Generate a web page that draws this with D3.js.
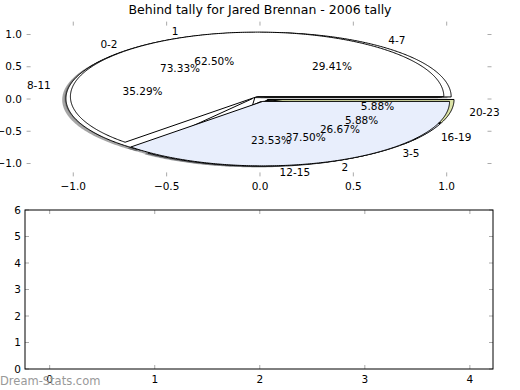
<!DOCTYPE html>
<html>
<head>
<meta charset="utf-8">
<script src="https://cdn.jsdelivr.net/npm/d3@7"></script>
<style>
  body { margin: 0; background: #fff; }
  svg { display: block; font-family: "DejaVu Sans", sans-serif; }
</style>
</head>
<body>
<div id="chart"></div>
<script>
// three tallies drawn into the same axes (A, then C, then B on top)
const pieALabels = ["0-2", "3-5"];
const pieAValues = [11, 4];
const pieBLabels = ["1", "2"];
const pieBValues = [5, 3];
const pieCLabels = ["4-7", "8-11", "12-15", "16-19", "20-23"];
const pieCValues = [5, 6, 4, 1, 1];

const pieTicks = [-1.0, -0.5, 0.0, 0.5, 1.0];
const lowerXTicks = [0, 1, 2, 3, 4];
const lowerYTicks = [0, 1, 2, 3, 4, 5, 6];

const width = 520, height = 390;
const blue = "#e8eefc";
const explode = 0.04;

const svg = d3.select("#chart").append("svg")
  .attr("width", width)
  .attr("height", height);

// ---- top axes (pie) ----
const x = d3.scaleLinear().domain([-1.25, 1.24]).range([26.6, 491.5]);
const y = d3.scaleLinear().domain([-1.2, 1.2]).range([176.4, 21.6]);

const pies = [
  { labels: pieALabels, values: pieAValues, colors: ["#ffffff", blue] },
  { labels: pieCLabels, values: pieCValues, colors: ["#ffffff", "#ffffff", blue, blue, "#dde4a8"] },
  { labels: pieBLabels, values: pieBValues, colors: ["#ffffff", blue] }
];

const pieGen = d3.pie().sort(null).startAngle(0).endAngle(2 * Math.PI);
const line = d3.line().x(p => x(p[0])).y(p => y(p[1]));
const fmt = d3.format(".2f");

function wedgePoints(cx, cy, a0, a1) {
  const n = Math.max(2, Math.ceil((a1 - a0) / 0.01));
  const pts = [[cx, cy]];
  for (let i = 0; i <= n; i++) {
    const a = a0 + (a1 - a0) * i / n;
    pts.push([cx + Math.cos(a), cy + Math.sin(a)]);
  }
  return pts;
}

// build wedges (angles counter-clockwise from east, like matplotlib)
pies.forEach(p => {
  const total = d3.sum(p.values);
  p.arcs = pieGen(p.values).map((a, i) => {
    const mid = (a.startAngle + a.endAngle) / 2;
    const cx = explode * Math.cos(mid), cy = explode * Math.sin(mid);
    return {
      label: p.labels[i],
      pct: fmt(p.values[i] / total * 100) + "%",
      color: p.colors[i],
      mid, cx, cy,
      pts: wedgePoints(cx, cy, a.startAngle, a.endAngle)
    };
  });
});

const all = pies.flatMap(p => p.arcs);

// shadows first
svg.append("g").selectAll("path")
  .data(all)
  .join("path")
  .attr("d", d => line(d.pts.map(q => [q[0] - 0.02, q[1] - 0.02])) + "Z")
  .attr("fill", d => {
    const c = d3.rgb(d.color);
    return `rgba(${c.r * 0.3},${c.g * 0.3},${c.b * 0.3},0.5)`;
  })
  .attr("stroke", "none");

svg.append("g").selectAll("path")
  .data(all)
  .join("path")
  .attr("d", d => line(d.pts) + "Z")
  .attr("fill", d => d.color)
  .attr("stroke", "#000")
  .attr("stroke-width", 1)
  .attr("stroke-linejoin", "round");

// labels
const txt = svg.append("g").attr("font-size", "10.5px").attr("fill", "#000");
txt.selectAll("text.lab")
  .data(all)
  .join("text")
  .attr("class", "lab")
  .attr("x", d => x(d.cx + 1.1 * Math.cos(d.mid)))
  .attr("y", d => y(d.cy + 1.1 * Math.sin(d.mid)))
  .attr("dy", "0.35em")
  .attr("text-anchor", d => Math.cos(d.mid) > 0 ? "start" : "end")
  .text(d => d.label);

txt.selectAll("text.pct")
  .data(all)
  .join("text")
  .attr("class", "pct")
  .attr("x", d => x(d.cx + 0.6 * Math.cos(d.mid)))
  .attr("y", d => y(d.cy + 0.6 * Math.sin(d.mid)))
  .attr("dy", "0.35em")
  .attr("text-anchor", "middle")
  .text(d => d.pct);

svg.append("text")
  .attr("x", 260).attr("y", 14)
  .attr("text-anchor", "middle")
  .attr("font-size", "12.5px")
  .text("Behind tally for Jared Brennan - 2006 tally");

function numFmt(v) { return (v < 0 ? "\u2212" : "") + Math.abs(v).toFixed(1); }

// tick marks, inward, on all four sides
function tickMarks(g, xs, ys, xPos, yPos, x0, x1, y0, y1) {
  xPos.forEach(v => {
    g.append("line").attr("x1", xs(v)).attr("x2", xs(v)).attr("y1", y1).attr("y2", y1 - 4);
    g.append("line").attr("x1", xs(v)).attr("x2", xs(v)).attr("y1", y0).attr("y2", y0 + 4);
  });
  yPos.forEach(v => {
    g.append("line").attr("x1", x0).attr("x2", x0 + 4).attr("y1", ys(v)).attr("y2", ys(v));
    g.append("line").attr("x1", x1).attr("x2", x1 - 4).attr("y1", ys(v)).attr("y2", ys(v));
  });
  g.attr("stroke", "#aaa").attr("stroke-width", 1);
}

tickMarks(svg.append("g"), x, y, pieTicks, pieTicks, 26.6, 491.5, 21.6, 176.4);

const axLab = svg.append("g").attr("font-size", "10.5px");
axLab.selectAll("text.xt").data(pieTicks).join("text")
  .attr("x", d => x(d)).attr("y", 190)
  .attr("text-anchor", "middle")
  .text(numFmt);
axLab.selectAll("text.yt").data(pieTicks).join("text")
  .attr("x", 22).attr("y", d => y(d)).attr("dy", "0.35em")
  .attr("text-anchor", "end")
  .text(numFmt);

// ---- bottom axes (empty) ----
const x2 = d3.scaleLinear().domain([-0.235, 4.22]).range([25, 493]);
const y2 = d3.scaleLinear().domain([0, 6]).range([369, 210]);

tickMarks(svg.append("g"), x2, y2, lowerXTicks, lowerYTicks, 25, 493, 210, 369);

svg.append("rect")
  .attr("x", 25).attr("y", 210)
  .attr("width", 468).attr("height", 159)
  .attr("fill", "none")
  .attr("stroke", "#000")
  .attr("stroke-width", 1);

axLab.selectAll("text.x2").data(lowerXTicks).join("text")
  .attr("x", d => x2(d)).attr("y", 383)
  .attr("text-anchor", "middle")
  .text(d => d);
axLab.selectAll("text.y2").data(lowerYTicks).join("text")
  .attr("x", 21).attr("y", d => y2(d)).attr("dy", "0.35em")
  .attr("text-anchor", "end")
  .text(d => d);

svg.append("text")
  .attr("x", 0).attr("y", 385)
  .attr("font-size", "11.5px")
  .attr("fill", "#999")
  .text("Dream-Stats.com");
</script>
</body>
</html>
